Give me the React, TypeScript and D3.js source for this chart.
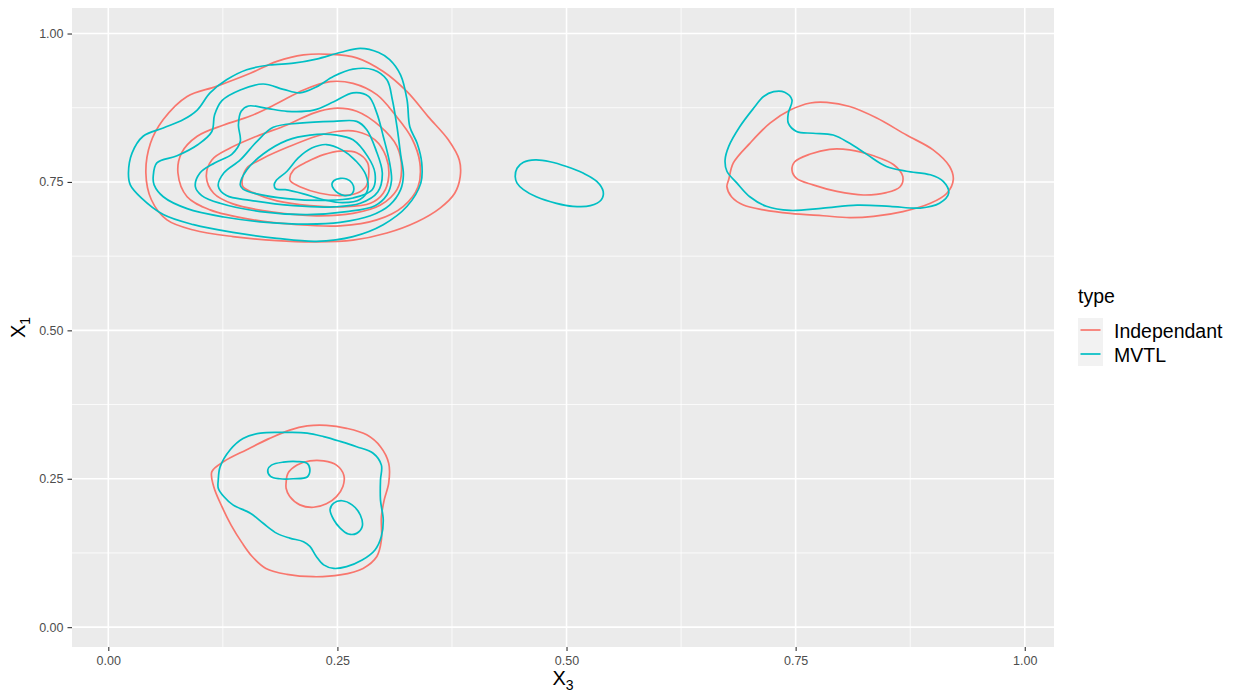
import React, { useEffect, useRef } from "react";
import * as d3 from "d3";

type Pt = [number, number];

// axis breaks
const xTicks = [0, 0.25, 0.5, 0.75, 1];
const yTicks = [0, 0.25, 0.5, 0.75, 1];
const xMinor = [0.125, 0.375, 0.625, 0.875];
const yMinor = [0.125, 0.375, 0.625, 0.875];

const types = ["Independant", "MVTL"];
const typeColors = ["#F8766D", "#00BFC4"];

// Independant density contours (X3, X1)
const indA1: Pt[] = [[0.041,0.765],[0.046,0.815],[0.060,0.855],[0.086,0.894],[0.118,0.911],[0.155,0.933],[0.184,0.953],[0.213,0.964],[0.242,0.965],[0.271,0.959],[0.300,0.936],[0.326,0.902],[0.349,0.860],[0.371,0.821],[0.383,0.787],[0.384,0.759],[0.378,0.731],[0.362,0.706],[0.337,0.683],[0.304,0.664],[0.267,0.652],[0.227,0.649],[0.184,0.651],[0.136,0.658],[0.093,0.669],[0.064,0.686],[0.047,0.720]];
const indA2: Pt[] = [[0.076,0.765],[0.080,0.799],[0.097,0.827],[0.126,0.846],[0.155,0.861],[0.184,0.882],[0.213,0.905],[0.242,0.919],[0.267,0.916],[0.293,0.897],[0.313,0.863],[0.331,0.824],[0.340,0.782],[0.338,0.742],[0.322,0.709],[0.293,0.686],[0.253,0.676],[0.206,0.678],[0.155,0.687],[0.111,0.703],[0.086,0.725]];
const indA3: Pt[] = [[0.107,0.759],[0.113,0.787],[0.133,0.807],[0.162,0.827],[0.195,0.846],[0.224,0.866],[0.246,0.874],[0.271,0.869],[0.297,0.843],[0.315,0.810],[0.320,0.770],[0.315,0.737],[0.297,0.711],[0.267,0.697],[0.227,0.693],[0.180,0.699],[0.136,0.713],[0.115,0.731]];
const indA4: Pt[] = [[0.146,0.752],[0.151,0.773],[0.169,0.790],[0.198,0.810],[0.227,0.827],[0.249,0.835],[0.271,0.835],[0.291,0.821],[0.303,0.793],[0.306,0.759],[0.300,0.731],[0.286,0.714],[0.256,0.708],[0.220,0.710],[0.184,0.718],[0.158,0.732],[0.147,0.742]];
const indA5: Pt[] = [[0.198,0.756],[0.202,0.770],[0.217,0.784],[0.235,0.796],[0.253,0.802],[0.271,0.799],[0.283,0.782],[0.284,0.759],[0.281,0.742],[0.271,0.731],[0.253,0.727],[0.231,0.731],[0.209,0.742],[0.199,0.751]];
const indB1: Pt[] = [[0.113,0.262],[0.126,0.279],[0.151,0.299],[0.176,0.318],[0.198,0.332],[0.217,0.339],[0.238,0.340],[0.260,0.335],[0.282,0.324],[0.297,0.304],[0.306,0.276],[0.306,0.243],[0.301,0.214],[0.298,0.186],[0.298,0.147],[0.293,0.119],[0.278,0.099],[0.253,0.088],[0.224,0.085],[0.195,0.089],[0.172,0.099],[0.157,0.119],[0.146,0.142],[0.134,0.172],[0.124,0.203],[0.115,0.237]];
const indB2: Pt[] = [[0.194,0.243],[0.196,0.259],[0.206,0.273],[0.220,0.280],[0.235,0.280],[0.249,0.273],[0.257,0.256],[0.256,0.237],[0.249,0.220],[0.238,0.208],[0.224,0.202],[0.209,0.206],[0.198,0.220],[0.194,0.234]];
const indD1: Pt[] = [[0.677,0.754],[0.682,0.782],[0.700,0.815],[0.722,0.849],[0.744,0.871],[0.766,0.883],[0.784,0.884],[0.809,0.877],[0.838,0.858],[0.871,0.829],[0.900,0.804],[0.918,0.776],[0.922,0.754],[0.915,0.731],[0.897,0.714],[0.867,0.700],[0.835,0.692],[0.809,0.690],[0.780,0.693],[0.744,0.697],[0.715,0.703],[0.693,0.711],[0.680,0.725],[0.675,0.742]];
const indD2: Pt[] = [[0.746,0.770],[0.749,0.784],[0.766,0.797],[0.787,0.805],[0.809,0.804],[0.835,0.794],[0.857,0.779],[0.867,0.759],[0.864,0.742],[0.849,0.732],[0.824,0.728],[0.795,0.734],[0.769,0.745],[0.751,0.756]];

// MVTL density contours
const mvtA1: Pt[] = [[0.022,0.765],[0.026,0.799],[0.038,0.827],[0.060,0.841],[0.082,0.855],[0.097,0.871],[0.111,0.900],[0.129,0.922],[0.151,0.939],[0.176,0.947],[0.202,0.950],[0.227,0.957],[0.253,0.968],[0.275,0.975],[0.295,0.968],[0.307,0.956],[0.319,0.930],[0.326,0.888],[0.329,0.843],[0.337,0.815],[0.342,0.782],[0.341,0.748],[0.326,0.709],[0.300,0.678],[0.267,0.658],[0.227,0.650],[0.184,0.655],[0.136,0.665],[0.093,0.678],[0.060,0.695],[0.036,0.723],[0.024,0.745]];
const mvtA2: Pt[] = [[0.049,0.759],[0.053,0.782],[0.075,0.794],[0.098,0.813],[0.113,0.835],[0.116,0.863],[0.124,0.887],[0.144,0.905],[0.169,0.915],[0.191,0.906],[0.209,0.900],[0.227,0.910],[0.246,0.928],[0.267,0.940],[0.289,0.939],[0.304,0.922],[0.310,0.888],[0.315,0.843],[0.319,0.796],[0.322,0.762],[0.319,0.737],[0.307,0.711],[0.286,0.693],[0.253,0.682],[0.217,0.679],[0.173,0.682],[0.126,0.691],[0.086,0.705],[0.060,0.725],[0.050,0.745]];
const mvtA3: Pt[] = [[0.095,0.742],[0.100,0.765],[0.116,0.782],[0.135,0.797],[0.144,0.818],[0.142,0.846],[0.145,0.869],[0.153,0.878],[0.173,0.874],[0.195,0.869],[0.224,0.871],[0.246,0.885],[0.267,0.900],[0.284,0.894],[0.293,0.866],[0.300,0.827],[0.307,0.782],[0.309,0.752],[0.304,0.728],[0.291,0.710],[0.260,0.700],[0.217,0.695],[0.166,0.700],[0.122,0.714],[0.102,0.727]];
const mvtA4: Pt[] = [[0.120,0.743],[0.126,0.765],[0.144,0.787],[0.162,0.818],[0.180,0.842],[0.209,0.849],[0.246,0.852],[0.271,0.852],[0.282,0.838],[0.292,0.804],[0.299,0.765],[0.294,0.733],[0.275,0.714],[0.246,0.708],[0.202,0.710],[0.155,0.719],[0.129,0.727]];
const mvtA5: Pt[] = [[0.144,0.745],[0.151,0.770],[0.169,0.797],[0.195,0.820],[0.220,0.829],[0.249,0.829],[0.267,0.821],[0.283,0.793],[0.291,0.765],[0.288,0.737],[0.267,0.723],[0.238,0.719],[0.195,0.722],[0.162,0.730],[0.147,0.738]];
const mvtA6: Pt[] = [[0.181,0.745],[0.183,0.752],[0.195,0.768],[0.207,0.790],[0.222,0.807],[0.238,0.813],[0.255,0.804],[0.271,0.784],[0.281,0.762],[0.283,0.737],[0.275,0.721],[0.256,0.715],[0.235,0.720],[0.213,0.730],[0.193,0.737],[0.183,0.738]];
const mvtA7: Pt[] = [[0.244,0.746],[0.246,0.752],[0.253,0.756],[0.260,0.755],[0.266,0.748],[0.268,0.738],[0.266,0.730],[0.258,0.727],[0.251,0.731],[0.246,0.738]];
const mvtB1: Pt[] = [[0.120,0.248],[0.122,0.270],[0.133,0.299],[0.147,0.318],[0.166,0.327],[0.195,0.328],[0.217,0.327],[0.235,0.321],[0.253,0.313],[0.271,0.304],[0.289,0.293],[0.298,0.273],[0.297,0.248],[0.297,0.214],[0.300,0.181],[0.298,0.153],[0.291,0.130],[0.277,0.113],[0.260,0.102],[0.246,0.099],[0.235,0.105],[0.227,0.119],[0.220,0.136],[0.213,0.144],[0.198,0.150],[0.184,0.158],[0.169,0.175],[0.155,0.192],[0.136,0.206],[0.126,0.220],[0.120,0.234]];
const mvtB2: Pt[] = [[0.174,0.265],[0.178,0.273],[0.191,0.278],[0.206,0.279],[0.217,0.276],[0.220,0.265],[0.217,0.253],[0.202,0.250],[0.187,0.250],[0.177,0.254]];
const mvtB3: Pt[] = [[0.242,0.198],[0.246,0.209],[0.255,0.213],[0.266,0.206],[0.275,0.189],[0.277,0.169],[0.271,0.158],[0.262,0.157],[0.253,0.167],[0.246,0.181]];
const mvtC1: Pt[] = [[0.444,0.759],[0.446,0.773],[0.453,0.783],[0.466,0.787],[0.482,0.784],[0.500,0.776],[0.518,0.765],[0.533,0.751],[0.540,0.734],[0.538,0.720],[0.526,0.710],[0.507,0.709],[0.489,0.714],[0.467,0.725],[0.453,0.737],[0.446,0.748]];
const mvtD1: Pt[] = [[0.673,0.787],[0.677,0.810],[0.689,0.843],[0.704,0.874],[0.715,0.894],[0.726,0.902],[0.738,0.901],[0.746,0.888],[0.742,0.866],[0.742,0.849],[0.751,0.835],[0.769,0.832],[0.791,0.829],[0.809,0.815],[0.828,0.796],[0.849,0.776],[0.871,0.768],[0.897,0.762],[0.911,0.751],[0.917,0.731],[0.907,0.714],[0.886,0.706],[0.853,0.709],[0.817,0.711],[0.780,0.706],[0.744,0.702],[0.718,0.709],[0.700,0.725],[0.686,0.748],[0.675,0.768]];

const indepContours = [indA1, indA2, indA3, indA4, indA5, indB1, indB2, indD1, indD2];
const mvtlContours = [mvtA1, mvtA2, mvtA3, mvtA4, mvtA5, mvtA6, mvtA7, mvtB1, mvtB2, mvtB3, mvtC1, mvtD1];

const FONT = "'Liberation Sans', Arial, Helvetica, sans-serif";

const App = () => {
  const svgRef = useRef<SVGSVGElement>(null);

  useEffect(() => {
    document.body.style.margin = "0";
    const svg = d3.select(svgRef.current);
    svg.selectAll("*").remove();

    // panel box
    const left = 72, right = 1054, top = 8, bottom = 647;

    const x = d3.scaleLinear().domain([-0.0396, 1.0319]).range([left, right]);
    const y = d3.scaleLinear().domain([-0.0334, 1.043]).range([bottom, top]);

    svg.append("rect")
      .attr("x", left).attr("y", top)
      .attr("width", right - left).attr("height", bottom - top)
      .attr("fill", "#EBEBEB");

    // grid
    const grid = svg.append("g");
    grid.selectAll(".vminor").data(xMinor).enter().append("line")
      .attr("x1", (d) => x(d)).attr("x2", (d) => x(d))
      .attr("y1", top).attr("y2", bottom)
      .attr("stroke", "#fff").attr("stroke-width", 0.8);
    grid.selectAll(".hminor").data(yMinor).enter().append("line")
      .attr("y1", (d) => y(d)).attr("y2", (d) => y(d))
      .attr("x1", left).attr("x2", right)
      .attr("stroke", "#fff").attr("stroke-width", 0.8);
    grid.selectAll(".vmajor").data(xTicks).enter().append("line")
      .attr("x1", (d) => x(d)).attr("x2", (d) => x(d))
      .attr("y1", top).attr("y2", bottom)
      .attr("stroke", "#fff").attr("stroke-width", 1.6);
    grid.selectAll(".hmajor").data(yTicks).enter().append("line")
      .attr("y1", (d) => y(d)).attr("y2", (d) => y(d))
      .attr("x1", left).attr("x2", right)
      .attr("stroke", "#fff").attr("stroke-width", 1.6);

    // contours
    const line = d3.line<Pt>()
      .x((d) => x(d[0]))
      .y((d) => y(d[1]))
      .curve(d3.curveCatmullRomClosed.alpha(0.5));

    [indepContours, mvtlContours].forEach((set, i) => {
      svg.append("g")
        .selectAll("path")
        .data(set)
        .enter()
        .append("path")
        .attr("d", (d) => line(d))
        .attr("fill", "none")
        .attr("stroke", typeColors[i])
        .attr("stroke-width", 1.7)
        .attr("stroke-linejoin", "round");
    });

    // axes
    const fmt = d3.format(".2f");
    const xAxis = svg.append("g")
      .attr("transform", `translate(0,${bottom})`)
      .call(d3.axisBottom(x).tickValues(xTicks).tickFormat((d) => fmt(d as number)).tickSize(4).tickPadding(5));
    const yAxis = svg.append("g")
      .attr("transform", `translate(${left},0)`)
      .call(d3.axisLeft(y).tickValues(yTicks).tickFormat((d) => fmt(d as number)).tickSize(4.5).tickPadding(4));
    [xAxis, yAxis].forEach((ax) => {
      ax.select(".domain").remove();
      ax.selectAll(".tick line").attr("stroke", "#333333").attr("stroke-width", 1.1);
      ax.selectAll(".tick text")
        .attr("fill", "#4D4D4D")
        .style("font-family", FONT)
        .style("font-size", "12.5px");
    });

    // axis titles
    const xt = svg.append("text")
      .attr("x", (left + right) / 2)
      .attr("y", 685)
      .attr("text-anchor", "middle")
      .style("font-family", FONT)
      .style("font-size", "20px")
      .attr("fill", "#000");
    xt.append("tspan").text("X");
    xt.append("tspan").attr("dy", 5).style("font-size", "14px").text("3");

    const yt = svg.append("text")
      .attr("transform", `translate(25,${(top + bottom) / 2}) rotate(-90)`)
      .attr("text-anchor", "middle")
      .style("font-family", FONT)
      .style("font-size", "20px")
      .attr("fill", "#000");
    yt.append("tspan").text("X");
    yt.append("tspan").attr("dy", 5).style("font-size", "14px").text("1");

    // legend
    const legend = svg.append("g").attr("transform", "translate(1078,0)");
    legend.append("text")
      .attr("x", 0).attr("y", 303)
      .style("font-family", FONT)
      .style("font-size", "19.5px")
      .text("type");
    const keys = legend.selectAll(".key")
      .data(types)
      .enter()
      .append("g")
      .attr("transform", (d, i) => `translate(0,${318 + i * 24})`);
    keys.append("rect")
      .attr("width", 25).attr("height", 24)
      .attr("fill", "#F2F2F2");
    keys.append("line")
      .attr("x1", 2.5).attr("x2", 22.5)
      .attr("y1", 12).attr("y2", 12)
      .attr("stroke", (d, i) => typeColors[i])
      .attr("stroke-width", 1.7);
    keys.append("text")
      .attr("x", 36).attr("y", 19.5)
      .style("font-family", FONT)
      .style("font-size", "19.5px")
      .text((d) => d);
  }, []);

  return <svg ref={svgRef} width={1240} height={695} style={{ display: "block", background: "#fff" }} />;
};

export default App;
